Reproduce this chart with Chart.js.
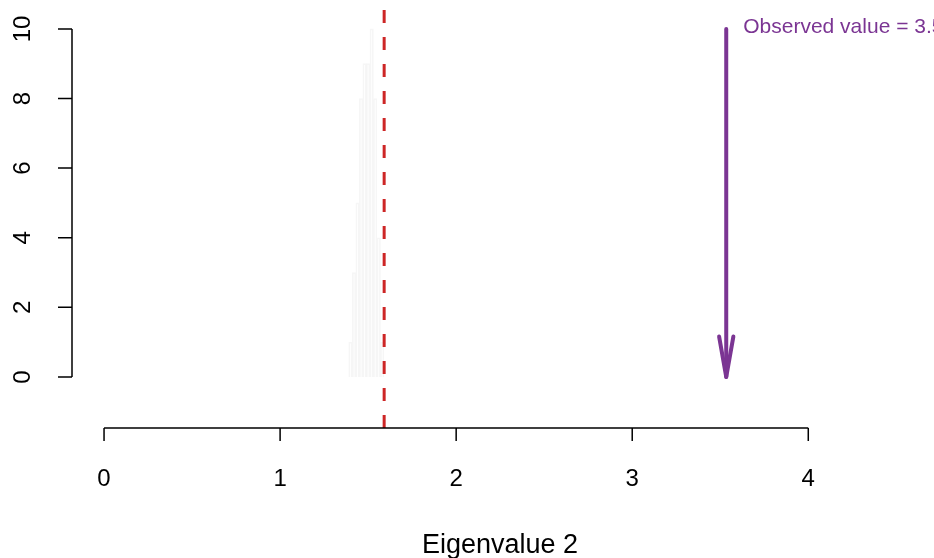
<!DOCTYPE html>
<html>
<head>
<meta charset="utf-8">
<script src="https://cdn.jsdelivr.net/npm/chart.js@4/dist/chart.umd.min.js"></script>
<style>
  html, body { margin: 0; padding: 0; background: #fff; }
  #wrap { width: 934px; height: 558px; }
</style>
</head>
<body>
<div id="wrap"><canvas id="myChart" width="934" height="558"></canvas></div>
<script>
// histogram of the null distribution (bin centres and counts)
const binCentres = [1.40, 1.42, 1.44, 1.46, 1.48, 1.50, 1.52, 1.54, 1.56, 1.58]
const binCounts = [1, 3, 5, 8, 9, 9, 10, 8, 4, 1]

const nullLine = 1.591
const observedValue = 3.534
const arrowFrom = 10
const arrowTo = 0
const observedLabel = "Observed value = 3.53"

const xTicks = [0, 1, 2, 3, 4]
const yTicks = [0, 2, 4, 6, 8, 10]
const xTitle = "Eigenvalue 2"

const purple = "#7B3593"
const red = "#CD2626"
const font = "'Liberation Sans', Arial, Helvetica, sans-serif"

const canvas = document.querySelector("#myChart")

const axesPlugin = {
    id: "baseAxes",
    afterDraw(chart) {
        const ctx = chart.ctx
        const xs = chart.scales.x
        const ys = chart.scales.y
        const area = chart.chartArea
        ctx.save()
        ctx.strokeStyle = "#000"
        ctx.fillStyle = "#000"
        ctx.lineWidth = 1.5

        // x axis
        const xb = area.bottom
        ctx.beginPath()
        ctx.moveTo(xs.getPixelForValue(xTicks[0]), xb)
        ctx.lineTo(xs.getPixelForValue(xTicks[xTicks.length - 1]), xb)
        xTicks.forEach(t => {
            const p = xs.getPixelForValue(t)
            ctx.moveTo(p, xb)
            ctx.lineTo(p, xb + 13)
        })
        ctx.stroke()
        ctx.font = "24px " + font
        ctx.textAlign = "center"
        ctx.textBaseline = "alphabetic"
        xTicks.forEach(t => {
            ctx.fillText(String(t), xs.getPixelForValue(t), 486)
        })

        // y axis
        const yl = area.left
        ctx.beginPath()
        ctx.moveTo(yl, ys.getPixelForValue(yTicks[0]))
        ctx.lineTo(yl, ys.getPixelForValue(yTicks[yTicks.length - 1]))
        yTicks.forEach(t => {
            const p = ys.getPixelForValue(t)
            ctx.moveTo(yl, p)
            ctx.lineTo(yl - 14, p)
        })
        ctx.stroke()
        yTicks.forEach(t => {
            ctx.save()
            ctx.translate(30, ys.getPixelForValue(t))
            ctx.rotate(-Math.PI / 2)
            ctx.fillText(String(t), 0, 0)
            ctx.restore()
        })

        // axis title
        ctx.font = "27px " + font
        ctx.fillText(xTitle, (area.left + area.right) / 2, 553)

        // arrow head + label
        const ax = xs.getPixelForValue(observedValue)
        const tipY = ys.getPixelForValue(arrowTo)
        const topY = ys.getPixelForValue(arrowFrom)
        const len = 41, ang = 10 * Math.PI / 180
        ctx.strokeStyle = purple
        ctx.lineWidth = 4
        ctx.lineCap = "round"
        ctx.lineJoin = "round"
        ctx.beginPath()
        ctx.moveTo(ax - len * Math.sin(ang), tipY - len * Math.cos(ang))
        ctx.lineTo(ax, tipY)
        ctx.lineTo(ax + len * Math.sin(ang), tipY - len * Math.cos(ang))
        ctx.stroke()

        ctx.fillStyle = purple
        ctx.font = "21px " + font
        ctx.textAlign = "left"
        ctx.textBaseline = "middle"
        ctx.fillText(observedLabel, ax + 17, topY - 2)
        ctx.restore()
    }
}

const config = {
    type: "bar",
    data: {
        datasets: [
            {
                type: "bar",
                data: binCentres.map((x, i) => ({ x, y: binCounts[i] })),
                backgroundColor: "rgba(255,255,255,0)",
                borderColor: "#f6f6f6",
                borderWidth: 1,
                barPercentage: 1,
                categoryPercentage: 1,
                order: 3
            },
            {
                type: "line",
                data: [{ x: nullLine, y: -1.466 }, { x: nullLine, y: 10.6 }],
                borderColor: red,
                borderWidth: 3,
                borderDash: [13, 14],
                pointRadius: 0,
                order: 2
            },
            {
                type: "line",
                data: [{ x: observedValue, y: arrowFrom }, { x: observedValue, y: arrowTo }],
                borderColor: purple,
                borderWidth: 4,
                borderCapStyle: "round",
                pointRadius: 0,
                order: 1
            }
        ]
    },
    options: {
        responsive: false,
        animation: false,
        layout: { padding: { left: 72, right: 6, top: 8, bottom: 130 } },
        plugins: { legend: { display: false }, tooltip: { enabled: false } },
        scales: {
            x: { type: "linear", min: -0.182, max: 4.68, offset: false, display: false },
            y: { type: "linear", min: -1.466, max: 10.6, display: false }
        }
    },
    plugins: [axesPlugin]
}

new Chart(canvas, config)
</script>
</body>
</html>
